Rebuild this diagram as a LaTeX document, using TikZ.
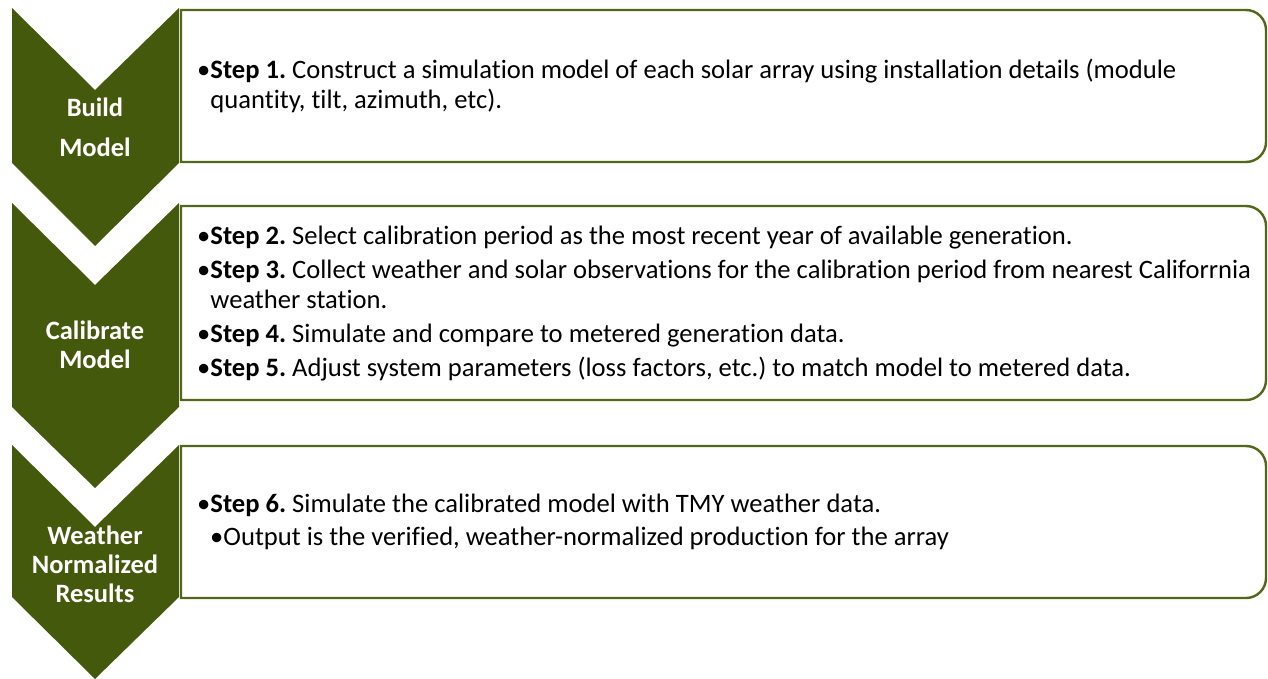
\documentclass[tikz,border=0pt]{standalone}
\usepackage{fontspec}
\setmainfont[Ligatures=NoCommon]{Carlito}
\usepackage{tikz}
\usetikzlibrary{positioning}
\definecolor{dfolive}{RGB}{69,89,13}
\definecolor{dfoliveline}{RGB}{82,104,24}
\tikzstyle{chevron} = [fill=dfolive, draw=none]
\tikzstyle{phase} = [text=white, align=center, font=\fontsize{26.5}{29}\selectfont\bfseries, inner sep=0pt]
\tikzstyle{stepbox} = [draw=dfoliveline, line width=2.4pt, fill=white]
\tikzstyle{steptext} = [anchor=west, align=left, text=black, font=\fontsize{26.6}{30}\selectfont, inner sep=0pt]
\frenchspacing

\begin{document}
\begin{tikzpicture}[x=1pt, y=-1pt]
\useasboundingbox (0,0) rectangle (1268,679);

% Build Model
\fill[chevron] (12,8) -- (95,90) -- (179,8) -- (179,163) -- (95,246) -- (12,163) -- cycle;
\draw[stepbox] (181,162) -- (181,10) -- (700,10) [rounded corners=20pt] -- (1266,10) -- (1266,162) -- (700,162) [sharp corners] -- cycle;
\node[phase] (build) at (95,127) {Build\\[11pt]Model};
\node[steptext] (step1) at (197,86) {%
•\textbf{Step 1.} Construct a simulation model of each solar array using installation details (module\\
\phantom{•}quantity, tilt, azimuth, etc).};

% Calibrate Model
\fill[chevron] (12,203) -- (95,285) -- (179,203) -- (179,407) -- (95,488) -- (12,407) -- cycle;
\draw[stepbox] (181,400) -- (181,206) -- (700,206) [rounded corners=20pt] -- (1266,206) -- (1266,400) -- (700,400) [sharp corners] -- cycle;
\node[phase] (calib) at (95,345) {Calibrate\\Model};
\node[steptext] (step2) at (197,304) {%
•\textbf{Step 2.} Select calibration period as the most recent year of available generation.\\[4pt]
•\textbf{Step 3.} Collect weather and solar observations for the calibration period from nearest Califorrnia\\
\phantom{•}weather station.\\[4pt]
•\textbf{Step 4.} Simulate and compare to metered generation data.\\[4pt]
•\textbf{Step 5.} Adjust system parameters (loss factors, etc.) to match model to metered data.};

% Weather Normalized Results
\fill[chevron] (12,445) -- (95,527) -- (179,445) -- (179,597) -- (95,679) -- (12,597) -- cycle;
\draw[stepbox] (181,598) -- (181,446) -- (700,446) [rounded corners=20pt] -- (1266,446) -- (1266,598) -- (700,598) [sharp corners] -- cycle;
\node[phase] (results) at (95,564) {Weather\\Normalized\\Results};
\node[steptext] (step6) at (197,522) {%
•\textbf{Step 6.} Simulate the calibrated model with TMY weather data.\\[3pt]
\hspace*{13pt}•Output is the verified, weather-normalized production for the array};
\end{tikzpicture}
\end{document}
